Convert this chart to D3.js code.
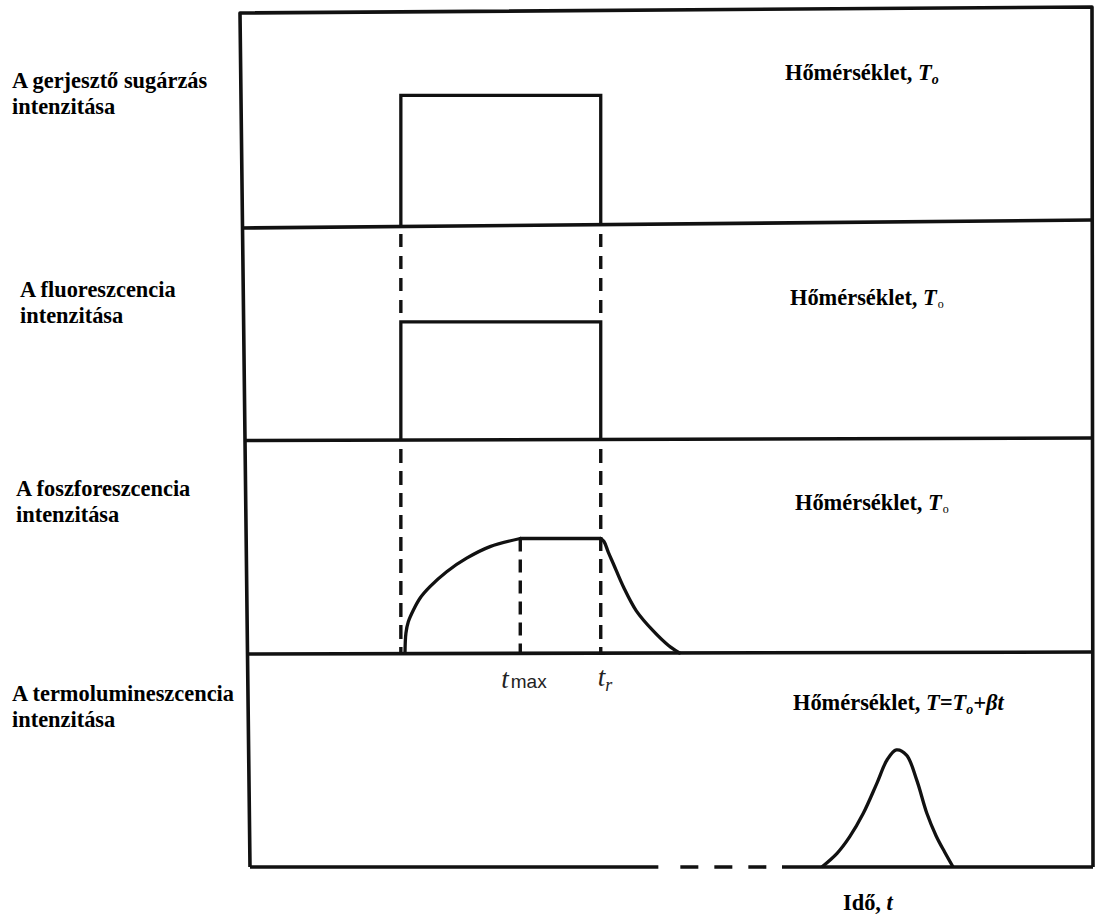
<!DOCTYPE html>
<html><head><meta charset="utf-8">
<script src="https://cdn.jsdelivr.net/npm/d3@7"></script>
<style>
body{margin:0;background:#fff}svg{display:block}
.serif{font-family:"Liberation Serif","Tinos","Times New Roman","Nimbus Roman","DejaVu Serif",serif}
.sans{font-family:"Liberation Sans","Arimo",Arial,"DejaVu Sans",sans-serif}
</style>
</head><body><svg id="c" width="1096" height="915"></svg>
<script>
// ---------- data ----------
const panelLabels = [
  ["A gerjesztő sugárzás", "intenzitása"],
  ["A fluoreszcencia", "intenzitása"],
  ["A foszforeszcencia", "intenzitása"],
  ["A termolumineszcencia", "intenzitása"]
];
const tempMain = ["Hőmérséklet, ", "Hőmérséklet, ", "Hőmérséklet, ", "Hőmérséklet, "];
const tempSym = ["T", "T", "T", "T"];
const tempSub = ["o", "∘", "∘", "o"];
const tempTail = ["", "", "", "+βt"];
const axisLabel = ["Idő, ", "t"];
// times (arbitrary units) of switching events
const tOn = 18.4, tR = 42.0, tMax = 32.5;
const excitationLevel = 0.605;
const fluorescenceLevel = 0.55;
const plateauLevel = 0.535;
const phosRiseT = [18.89, 19.0, 19.28, 19.87, 20.66, 21.84, 23.81, 26.17, 28.93, 32.5];
const phosRiseV = [0, 0.093, 0.146, 0.20, 0.256, 0.31, 0.38, 0.443, 0.497, 0.535];
const phosDecayT = [42.0, 42.4, 42.9, 43.5, 44.7, 46.2, 48.2, 50.0, 51.3];
const phosDecayV = [0.535, 0.52, 0.47, 0.416, 0.307, 0.197, 0.103, 0.035, 0];
const tlT = [68.1, 69.9, 71.4, 73.0, 74.6, 75.8, 76.9, 78.1, 79.3, 80.5, 81.6, 82.6, 83.6];
const tlV = [0, 0.064, 0.142, 0.251, 0.391, 0.50, 0.547, 0.523, 0.407, 0.251, 0.145, 0.07, 0];
const axisBreak = [48.8, 63.4];

// ---------- layout ----------
const svg = d3.select("#c");
const ink = "#111";
const x = d3.scaleLinear().domain([0, 100]).range([245, 1092]);
const panelBase = [226, 439, 653, 867];
const panelTop  = [10, 226, 439, 653];
const ys = panelBase.map((b, i) => d3.scaleLinear().domain([0, 1]).range([b, panelTop[i]]));

// frame (slightly skewed like the scanned original)
const frameW = 3.6;
svg.append("path")
  .attr("d", "M250,867 L240,13 L1092,7 L1093,867")
  .attr("fill", "none").attr("stroke", ink).attr("stroke-width", frameW).attr("stroke-linejoin", "round");
const dividers = [[241.5, 228, 1092, 220], [245, 440.5, 1092, 438], [247.5, 654, 1093, 652]];
svg.selectAll("line.div").data(dividers).enter().append("line")
  .attr("x1", d => d[0]).attr("y1", d => d[1]).attr("x2", d => d[2]).attr("y2", d => d[3])
  .attr("stroke", ink).attr("stroke-width", frameW);
// bottom time axis with break
svg.append("line").attr("x1", 250).attr("x2", x(axisBreak[0])).attr("y1", 867).attr("y2", 867)
  .attr("stroke", ink).attr("stroke-width", frameW);
svg.append("line").attr("x1", x(axisBreak[1])).attr("x2", 1093).attr("y1", 867).attr("y2", 867)
  .attr("stroke", ink).attr("stroke-width", frameW);
svg.append("line").attr("x1", x(axisBreak[0]) + 22).attr("x2", x(axisBreak[1])).attr("y1", 867).attr("y2", 867)
  .attr("stroke", ink).attr("stroke-width", frameW).attr("stroke-dasharray", "18,16");

const lw = 3.3;
// panel 1: excitation pulse
svg.append("path")
  .attr("d", `M${x(tOn)},${ys[0](0)} V${ys[0](excitationLevel)} H${x(tR)} V${ys[0](0) - 1}`)
  .attr("fill", "none").attr("stroke", ink).attr("stroke-width", lw);
// panel 2: dashes + fluorescence pulse
[tOn, tR].forEach(t => {
  svg.append("line").attr("x1", x(t)).attr("x2", x(t))
    .attr("y1", panelTop[1] + 8).attr("y2", ys[1](fluorescenceLevel) - 8)
    .attr("stroke", ink).attr("stroke-width", 3.4).attr("stroke-dasharray", "13,9");
});
svg.append("path")
  .attr("d", `M${x(tOn)},${ys[1](0)} V${ys[1](fluorescenceLevel)} H${x(tR)} V${ys[1](0)}`)
  .attr("fill", "none").attr("stroke", ink).attr("stroke-width", lw);
// panel 3: phosphorescence
[tOn, tR].forEach(t => {
  svg.append("line").attr("x1", x(t)).attr("x2", x(t))
    .attr("y1", panelTop[2] + 10).attr("y2", ys[2](0))
    .attr("stroke", ink).attr("stroke-width", 3.4).attr("stroke-dasharray", "14,8");
});
svg.append("line").attr("x1", x(tMax)).attr("x2", x(tMax))
  .attr("y1", ys[2](plateauLevel)).attr("y2", ys[2](0))
  .attr("stroke", ink).attr("stroke-width", 3.4).attr("stroke-dasharray", "13,8");
const lineC = d3.line().x(d => x(d[0])).curve(d3.curveCatmullRom.alpha(0.5));
svg.append("path").datum(d3.zip(phosRiseT, phosRiseV)).attr("d", lineC.y(d => ys[2](d[1])))
  .attr("fill", "none").attr("stroke", ink).attr("stroke-width", lw).attr("stroke-linecap", "round");
svg.append("line").attr("x1", x(tMax)).attr("x2", x(tR)).attr("y1", ys[2](plateauLevel)).attr("y2", ys[2](plateauLevel))
  .attr("stroke", ink).attr("stroke-width", lw).attr("stroke-linecap", "round");
svg.append("path").datum(d3.zip(phosDecayT, phosDecayV)).attr("d", lineC.y(d => ys[2](d[1])))
  .attr("fill", "none").attr("stroke", ink).attr("stroke-width", lw).attr("stroke-linecap", "round");
// panel 4: thermoluminescence glow peak
svg.append("path").datum(d3.zip(tlT, tlV)).attr("d", lineC.y(d => ys[3](d[1])))
  .attr("fill", "none").attr("stroke", ink).attr("stroke-width", lw);

// t_max, t_r labels
const tl1 = svg.append("text").attr("x", x(tMax) - 19).attr("y", 688).attr("fill", "#222");
tl1.append("tspan").text("t").attr("class", "serif").attr("font-style", "italic").attr("font-size", 27);
tl1.append("tspan").text("max").attr("class", "sans").attr("font-size", 19).attr("dx", 2);
const tl2 = svg.append("text").attr("x", x(tR) - 3).attr("y", 686).attr("fill", "#222");
tl2.append("tspan").text("t").attr("class", "serif").attr("font-style", "italic").attr("font-size", 27);
tl2.append("tspan").text("r").attr("class", "serif").attr("font-style", "italic").attr("font-size", 18).attr("dy", 5);

// left labels
const labelX = [12, 20, 16, 12];
const labelY = [88, 297, 496, 701];
panelLabels.forEach((lines, i) => {
  lines.forEach((s, j) => {
    svg.append("text").attr("class", "serif").attr("x", labelX[i]).attr("y", labelY[i] + j * 26)
      .attr("font-weight", "bold").attr("font-size", 22.4)
      .attr("fill", "#000").text(s);
  });
});
// temperature labels
const tempX = [785, 790, 795, 793];
const tempY = [80, 305, 510, 710];
tempMain.forEach((s, i) => {
  const t = svg.append("text").attr("class", "serif").attr("x", tempX[i]).attr("y", tempY[i])
    .attr("font-weight", "bold").attr("font-size", 22.4).attr("fill", "#000");
  t.append("tspan").text(s);
  if (i === 3) {
    t.append("tspan").text("T=").attr("font-style", "italic");
  }
  t.append("tspan").text(tempSym[i]).attr("font-style", "italic");
  if (tempSub[i] === "o") {
    t.append("tspan").text("o").attr("font-style", "italic").attr("font-size", 14).attr("dy", 4);
  } else {
    t.append("tspan").text("o").attr("font-weight", "normal").attr("font-size", 12).attr("dy", 3).attr("dx", 1);
  }
  if (tempTail[i]) {
    t.append("tspan").text(tempTail[i]).attr("font-style", "italic").attr("dy", -4);
  }
});
// axis label
const ax = svg.append("text").attr("class", "serif").attr("x", 843).attr("y", 910)
  .attr("font-weight", "bold").attr("font-size", 22.4).attr("fill", "#000");
ax.append("tspan").text(axisLabel[0]);
ax.append("tspan").text(axisLabel[1]).attr("font-style", "italic");
</script></body></html>
